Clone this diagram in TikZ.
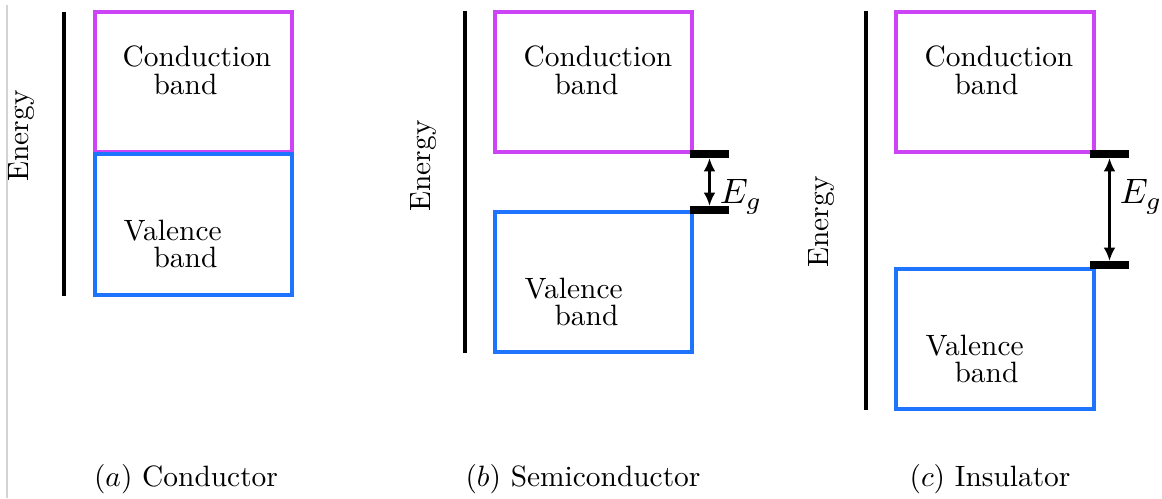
\documentclass[tikz,border=0pt]{standalone}
\usetikzlibrary{arrows.meta,fit}
\definecolor{cbcol}{RGB}{204,68,245}
\definecolor{vbcol}{RGB}{30,115,255}
\definecolor{edgegray}{RGB}{212,212,212}
\begin{document}
\begin{tikzpicture}[x=0.34pt,y=-0.34pt,
  cband/.style={draw=cbcol, line width=1.2pt, inner sep=0pt},
  vband/.style={draw=vbcol, line width=1.2pt, inner sep=0pt},
  axisline/.style={line width=1.1pt},
  gapbar/.style={fill=black, inner sep=0pt, minimum width=13.3pt, minimum height=2.4pt},
  gaparrow/.style={{Latex[length=4.5pt,width=4pt]}-{Latex[length=4.5pt,width=4pt]}, line width=0.8pt},
  lbl/.style={anchor=base west, inner sep=0pt},
  energy/.style={rotate=90, inner sep=0pt},
  gaplbl/.style={inner sep=0pt, scale=1.2},
  capt/.style={anchor=base, inner sep=0pt}]
\useasboundingbox (0,0) rectangle (1162,499);
% thin edge line
\coordinate (e1) at (7,5); \coordinate (e2) at (7,498);
\draw[edgegray, line width=0.6pt] (e1) -- (e2);

% ---------- (a) Conductor ----------
\coordinate (axa1) at (64,12); \coordinate (axa2) at (64,296);
\draw[axisline] (axa1) -- (axa2);
\node[energy] (ena) at (22,136) {Energy};
\coordinate (ca1) at (95,12); \coordinate (ca2) at (292,152);
\node[cband, fit=(ca1)(ca2)] (cba) {};
\coordinate (va1) at (95,154); \coordinate (va2) at (292,295);
\node[vband, fit=(va1)(va2)] (vba) {};
\node[lbl] (ta1) at (122,67) {Conduction};
\node[lbl] (ta2) at (153,95) {band};
\node[lbl] (ta3) at (123,241) {Valence};
\node[lbl] (ta4) at (153,268) {band};
\node[capt] (capa) at (186,487) {$(a)$ Conductor};

% ---------- (b) Semiconductor ----------
\coordinate (axb1) at (465,11); \coordinate (axb2) at (465,353);
\draw[axisline] (axb1) -- (axb2);
\node[energy] (enb) at (424,166) {Energy};
\coordinate (cb1) at (495,12); \coordinate (cb2) at (692,152);
\node[cband, fit=(cb1)(cb2)] (cbb) {};
\coordinate (vb1) at (495,212); \coordinate (vb2) at (692,352);
\node[vband, fit=(vb1)(vb2)] (vbb) {};
\node[lbl] (tb1) at (523,67) {Conduction};
\node[lbl] (tb2) at (554,95) {band};
\node[lbl] (tb3) at (524,299) {Valence};
\node[lbl] (tb4) at (554,326) {band};
\node[gapbar] (bbt) at (709.5,154) {};
\node[gapbar] (bbb) at (709.5,210) {};
\draw[gaparrow] (bbt.south) -- (bbb.north);
\node[gaplbl] (egb) at (741,197) {$E_g$};
\node[capt] (capb) at (583,487) {$(b)$ Semiconductor};

% ---------- (c) Insulator ----------
\coordinate (axc1) at (866,11); \coordinate (axc2) at (866,410);
\draw[axisline] (axc1) -- (axc2);
\node[energy] (enc) at (822,222) {Energy};
\coordinate (cc1) at (896,12); \coordinate (cc2) at (1094,152);
\node[cband, fit=(cc1)(cc2)] (cbc) {};
\coordinate (vc1) at (896,269); \coordinate (vc2) at (1094,409);
\node[vband, fit=(vc1)(vc2)] (vbc) {};
\node[lbl] (tc1) at (924,67) {Conduction};
\node[lbl] (tc2) at (954,95) {band};
\node[lbl] (tc3) at (925,356) {Valence};
\node[lbl] (tc4) at (954,383) {band};
\node[gapbar] (bct) at (1109.5,154) {};
\node[gapbar] (bcb) at (1109.5,265) {};
\draw[gaparrow] (bct.south) -- (bcb.north);
\node[gaplbl] (egc) at (1141,197) {$E_g$};
\node[capt] (capc) at (990,487) {$(c)$ Insulator};
\end{tikzpicture}
\end{document}
